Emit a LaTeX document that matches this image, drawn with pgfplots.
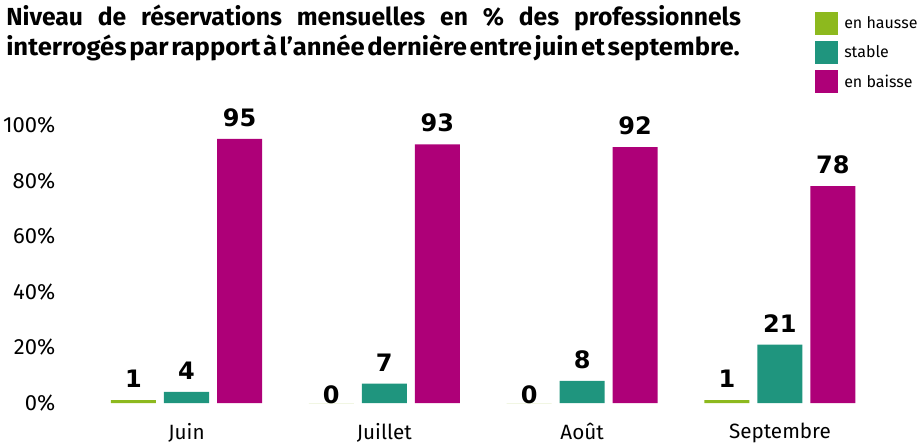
\documentclass[border=0pt]{standalone}
\usepackage{fontspec}
\setmainfont{Fira Sans}
\newfontfamily\lab{DejaVu Sans}
\usepackage{graphicx}
\usepackage{pgfplots}
\pgfplotsset{compat=1.18}
\definecolor{cg}{HTML}{8DB91E}
\definecolor{ct}{HTML}{1F957E}
\definecolor{cm}{HTML}{AE0078}
\begin{document}
\begin{tikzpicture}[x=0.75pt,y=0.75pt]
\path[use as bounding box] (0,0) rectangle (920,444);
\node[anchor=base west, inner sep=0] at (6,418) {\makebox[551pt][s]{\fontsize{18.5}{22}\selectfont\bfseries Niveau de réservations mensuelles en \% des professionnels}};
\node[anchor=base west, inner sep=0] at (6,389) {\resizebox{550pt}{\height}{\fontsize{18.5}{22}\selectfont\bfseries\spaceskip=0.1em\relax interrogés par rapport à l’année dernière entre juin et septembre.}};
\begin{axis}[at={(45pt,30.75pt)}, anchor=south west, scale only axis,
  width=630pt, height=208.5pt,
  xmin=-0.6395, xmax=3.607, ymin=0, ymax=100,
  axis line style={draw=none}, tick style={draw=none},
  ytick={0,20,...,100}, yticklabel={\pgfmathprintnumber{\tick}\%},
  xtick={0,1,2,3}, xticklabels={Juin,Juillet,Août,Septembre},
  ybar=6pt, bar width=33.75pt,
  yticklabel style={font=\fontsize{16.5}{19}\selectfont},
  xticklabel style={font=\fontsize{15.5}{18}\selectfont, yshift=-7.5pt},
  /pgf/number format/assume math mode=true,
  visualization depends on={y \as \rawy},
  nodes near coords,
  nodes near coords style={font=\lab\bfseries\fontsize{18}{21}\selectfont, anchor=south, inner sep=0pt,
    yshift={ifthenelse(\rawy>0.5,9,-1)*1pt}},
  legend image code/.code={\fill[#1] (0pt,-8.625pt) rectangle (17.25pt,8.625pt);},
  legend style={at={(0.8988,1.4065)}, anchor=north west, draw=none, fill=none, inner sep=0pt,
    font=\fontsize{12}{14}\selectfont, cells={anchor=west}, nodes={inner sep=1.5pt},
    row sep=4.5pt, /tikz/column 1/.style={column sep=3pt}},
]
\addplot[fill=cg, draw=none] coordinates {(0,1) (1,0) (2,0) (3,1)};
\addplot[fill=ct, draw=none] coordinates {(0,4) (1,7) (2,8) (3,21)};
\addplot[fill=cm, draw=none] coordinates {(0,95) (1,93) (2,92) (3,78)};
\legend{en hausse, stable, en baisse}
\end{axis}
\end{tikzpicture}
\end{document}
